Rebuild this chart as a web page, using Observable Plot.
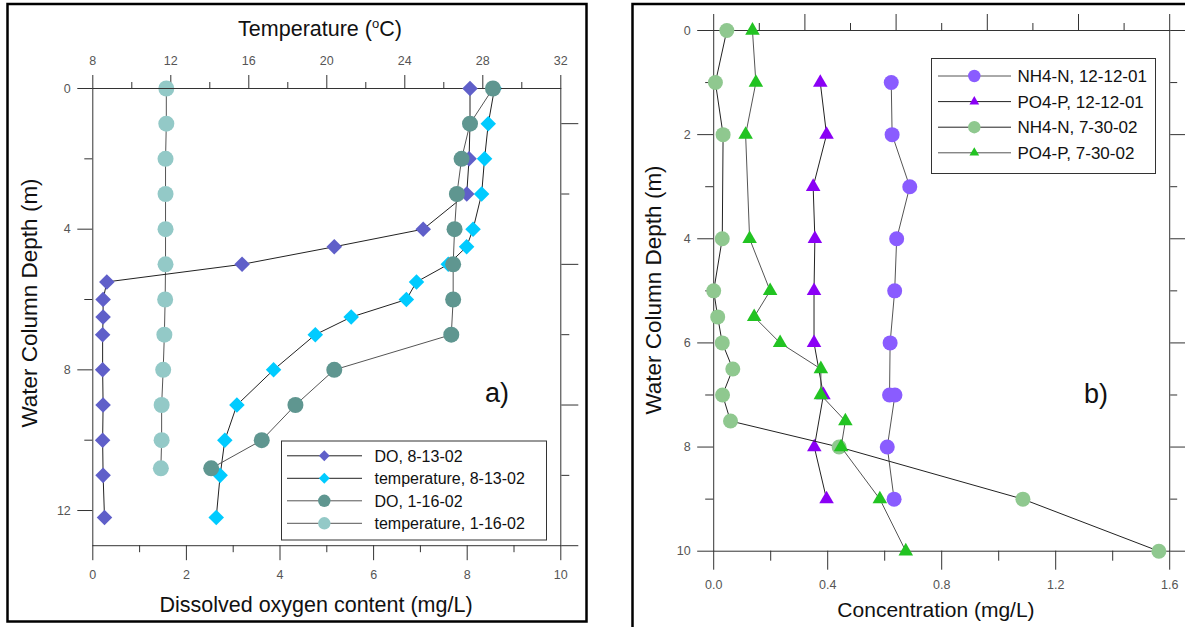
<!DOCTYPE html>
<html><head><meta charset="utf-8">
<script src="https://cdn.jsdelivr.net/npm/d3@7"></script>
<script src="https://cdn.jsdelivr.net/npm/@observablehq/plot@0.6"></script>
<style>
body{margin:0;background:#fff;}
#page{position:relative;width:1185px;height:627px;overflow:hidden;background:#fff;font-family:"Liberation Sans",Arial,sans-serif;}
#page > svg{position:absolute;left:0;top:0;}
[aria-label="x-axis tick label"],[aria-label="y-axis tick label"]{fill:#555;}
</style></head>
<body><div id="page"></div>
<script>
// ---------- Panel a) data ----------
const depths0813 = [0, 1, 2, 3, 4, 4.5, 5, 5.5, 6, 6.5, 7, 8, 9, 10, 11, 12.2];
const do0813     = [8.06, 8.06, 8.04, 7.99, 7.06, 5.16, 3.19, 0.30, 0.22, 0.22, 0.21, 0.21, 0.22, 0.21, 0.22, 0.25];
const temp0813   = [28.6, 28.28, 28.09, 27.94, 27.5, 27.17, 26.23, 24.6, 24.08, 21.25, 19.41, 17.27, 15.39, 14.77, 14.53, 14.33];
const depths0116 = [0, 1, 2, 3, 4, 5, 6, 7, 8, 9, 10, 10.8];
const do0116     = [8.55, 8.06, 7.88, 7.78, 7.73, 7.70, 7.70, 7.66, 5.16, 4.33, 3.61, 2.53];
const temp0116   = [11.77, 11.77, 11.73, 11.73, 11.73, 11.73, 11.71, 11.67, 11.61, 11.53, 11.53, 11.49];
const seriesA = ["DO, 8-13-02", "temperature, 8-13-02", "DO, 1-16-02", "temperature, 1-16-02"];

// ---------- Panel b) data ----------
const depthsNH4Dec = [1, 2, 3, 4, 5, 6, 7, 7, 8, 9];
const nh4Dec       = [0.623, 0.626, 0.688, 0.642, 0.635, 0.619, 0.617, 0.636, 0.609, 0.633];
const depthsPO4Dec = [1, 2, 3, 4, 5, 6, 7, 8, 9];
const po4Dec       = [0.374, 0.396, 0.349, 0.355, 0.352, 0.352, 0.385, 0.353, 0.396];
const depthsJul    = [0, 1, 2, 4, 5, 5.5, 6, 6.5, 7, 7.5, 8, 9, 10];
const nh4Jul       = [0.046, 0.006, 0.033, 0.030, 0.0, 0.014, 0.030, 0.067, 0.031, 0.059, 0.440, 1.085, 1.562];
const po4Jul       = [0.136, 0.148, 0.112, 0.126, 0.198, 0.142, 0.233, 0.376, 0.376, 0.462, 0.447, 0.583, 0.674];
const seriesB = ["NH4-N, 12-12-01", "PO4-P, 12-12-01", "NH4-N, 7-30-02", "PO4-P, 7-30-02"];

// ---------- Tick values ----------
const doMajor = [0, 2, 4, 6, 8, 10], doMinor = [1, 3, 5, 7, 9];
const tempMajor = [8, 12, 16, 20, 24, 28, 32], tempMinor = [10, 14, 18, 22, 26, 30];
const depthMajorA = [0, 4, 8, 12], depthMinorA = [2, 6, 10];
const rightLongA = [1, 5, 9, 13], rightShortA = [3, 7, 11];
const concMajor = [0, 0.4, 0.8, 1.2, 1.6], concMinor = [0.2, 0.6, 1.0, 1.4];
const concTopLong = [0, 0.32, 0.64, 0.96, 1.28, 1.6], concTopShort = [0.16, 0.48, 0.8, 1.12, 1.44];
const depthMajorB = [0, 2, 4, 6, 8, 10], depthMinorB = [1, 3, 5, 7, 9];

const rows = (depths, vals) => depths.map((d, i) => ({depth: d, value: vals[i]}));
const colorsA = ["#5f5fc9", "#00cbff", "#5f9690", "#93c9c7"];
const linesA  = ["#222", "#222", "#555", "#555"];
const colorsB = ["#8a5cff", "#8a00f5", "#8fc88f", "#22c322"];
const linesB  = ["#555", "#222", "#222", "#555"];

const font = '"Liberation Sans", Arial, sans-serif';
const page = document.getElementById("page");
const style = {background: "transparent", fontFamily: font, fontSize: "12.5px", color: "#333", overflow: "visible"};

// ----- Panel a: temperature layer (top axis) -----
const dimA = {width: 600, height: 627, marginLeft: 92.3, marginRight: 39.7, marginTop: 88, marginBottom: 81.8};
const t0813 = rows(depths0813, temp0813), t0116 = rows(depths0116, temp0116);
const d0813 = rows(depths0813, do0813), d0116 = rows(depths0116, do0116);

const plotT = Plot.plot({
  ...dimA, style,
  x: {domain: [8, 32]},
  y: {domain: [0, 13], reverse: true, axis: null},
  marks: [
    Plot.axisX({ticks: tempMajor, anchor: "top", tickSize: 14, tickPadding: 10, label: null}),
    Plot.axisX({ticks: tempMinor, anchor: "top", tickSize: 7, tickFormat: () => "", label: null}),
    Plot.line(t0813, {x: "value", y: "depth", stroke: linesA[1], strokeWidth: 1}),
    Plot.dot(t0813, {x: "value", y: "depth", symbol: "diamond2", r: 7, fill: colorsA[1]}),
    Plot.line(t0116, {x: "value", y: "depth", stroke: linesA[3], strokeWidth: 1}),
    Plot.dot(t0116, {x: "value", y: "depth", r: 8, fill: colorsA[3]})
  ]
});
page.appendChild(plotT);

// ----- Panel a: DO layer -----
const plotD = Plot.plot({
  ...dimA, style,
  x: {domain: [0, 10]},
  y: {domain: [0, 13], reverse: true},
  marks: [
    Plot.frame({stroke: "#333"}),
    Plot.axisX({ticks: doMajor, anchor: "bottom", tickSize: 15, tickPadding: 9, label: null}),
    Plot.axisX({ticks: doMinor, anchor: "bottom", tickSize: 7, tickFormat: () => "", label: null}),
    Plot.axisY({ticks: depthMajorA, anchor: "left", tickSize: 15, tickPadding: 7, label: null}),
    Plot.axisY({ticks: depthMinorA, anchor: "left", tickSize: 8, tickFormat: () => "", label: null}),
    Plot.axisY({ticks: rightLongA, anchor: "right", tickSize: 17, tickFormat: () => "", label: null}),
    Plot.axisY({ticks: rightShortA, anchor: "right", tickSize: 8, tickFormat: () => "", label: null}),
    Plot.line(d0813, {x: "value", y: "depth", stroke: linesA[0], strokeWidth: 1}),
    Plot.dot(d0813, {x: "value", y: "depth", symbol: "diamond2", r: 7, fill: colorsA[0]}),
    Plot.line(d0116, {x: "value", y: "depth", stroke: linesA[2], strokeWidth: 1}),
    Plot.dot(d0116, {x: "value", y: "depth", r: 8, fill: colorsA[2]})
  ]
});
page.appendChild(plotD);

// ----- Panel b -----
const bNH4Dec = rows(depthsNH4Dec, nh4Dec), bPO4Dec = rows(depthsPO4Dec, po4Dec);
const bNH4Jul = rows(depthsJul, nh4Jul), bPO4Jul = rows(depthsJul, po4Jul);
const plotB = Plot.plot({
  width: 565, height: 627, marginLeft: 93.2, marginRight: 15.8, marginTop: 30, marginBottom: 76.3, style,
  x: {domain: [0, 1.6]},
  y: {domain: [0, 10], reverse: true},
  marks: [
    Plot.frame({stroke: "#333"}),
    Plot.axisX({ticks: concMajor, anchor: "bottom", tickSize: 19, tickPadding: 10, label: null}),
    Plot.axisX({ticks: concMinor, anchor: "bottom", tickSize: 10, tickFormat: () => "", label: null}),
    Plot.axisX({ticks: concTopLong, anchor: "top", tickSize: 17, tickFormat: () => "", label: null}),
    Plot.axisX({ticks: concTopShort, anchor: "top", tickSize: 8, tickFormat: () => "", label: null}),
    Plot.axisY({ticks: depthMajorB, anchor: "left", tickSize: 16, tickPadding: 7, label: null}),
    Plot.axisY({ticks: depthMinorB, anchor: "left", tickSize: 8, tickFormat: () => "", label: null}),
    Plot.axisY({ticks: depthMajorB, anchor: "right", tickSize: 16, tickFormat: () => "", label: null}),
    Plot.axisY({ticks: depthMinorB, anchor: "right", tickSize: 7, tickFormat: () => "", label: null}),
    Plot.line(bNH4Dec, {x: "value", y: "depth", stroke: linesB[0], strokeWidth: 1}),
    Plot.dot(bNH4Dec, {x: "value", y: "depth", r: 7.5, fill: colorsB[0]}),
    Plot.line(bPO4Dec, {x: "value", y: "depth", stroke: linesB[1], strokeWidth: 1}),
    Plot.dot(bPO4Dec, {x: "value", y: "depth", symbol: "triangle", r: 5.4, fill: colorsB[1]}),
    Plot.line(bNH4Jul, {x: "value", y: "depth", stroke: linesB[2], strokeWidth: 1}),
    Plot.dot(bNH4Jul, {x: "value", y: "depth", r: 7.5, fill: colorsB[2]}),
    Plot.line(bPO4Jul, {x: "value", y: "depth", stroke: linesB[3], strokeWidth: 1}),
    Plot.dot(bPO4Jul, {x: "value", y: "depth", symbol: "triangle", r: 5.4, fill: colorsB[3]})
  ]
});
plotB.style.left = "620px";
page.appendChild(plotB);

// ----- Overlay: borders, titles, legends -----
const ov = d3.select(page).append("svg").attr("width", 1185).attr("height", 627)
  .style("font-family", font).style("pointer-events", "none");
ov.append("rect").attr("x", 7.5).attr("y", 4).attr("width", 579).attr("height", 617.5)
  .attr("fill", "none").attr("stroke", "#000").attr("stroke-width", 2.5);
ov.append("path").attr("d", "M632.5,640V4H1200").attr("fill", "none").attr("stroke", "#000").attr("stroke-width", 2.5);

const tt = ov.append("text").attr("x", 320).attr("y", 36).attr("text-anchor", "middle").attr("font-size", 21.5).attr("fill", "#111");
tt.append("tspan").text("Temperature (");
tt.append("tspan").attr("font-size", 13).attr("dy", -8).text("o");
tt.append("tspan").attr("dy", 8).text("C)");
ov.append("text").attr("x", 316).attr("y", 612).attr("text-anchor", "middle").attr("font-size", 21.5).attr("fill", "#111").text("Dissolved oxygen content (mg/L)");
ov.append("text").attr("transform", "translate(37,303) rotate(-90)").attr("text-anchor", "middle").attr("font-size", 22.5).attr("fill", "#111").text("Water Column Depth (m)");
ov.append("text").attr("x", 936).attr("y", 617).attr("text-anchor", "middle").attr("font-size", 21).attr("fill", "#111").text("Concentration (mg/L)");
ov.append("text").attr("transform", "translate(661,290) rotate(-90)").attr("text-anchor", "middle").attr("font-size", 22.5).attr("fill", "#111").text("Water Column Depth (m)");
ov.append("text").attr("x", 485).attr("y", 402).attr("font-size", 27).attr("fill", "#111").text("a)");
ov.append("text").attr("x", 1084).attr("y", 403).attr("font-size", 27).attr("fill", "#111").text("b)");

function legend(box, rowY, gap, x0, x1, xm, xt, fs, names, colors, lines, symbols, sizes) {
  ov.append("rect").attr("x", box[0]).attr("y", box[1]).attr("width", box[2]).attr("height", box[3])
    .attr("fill", "#fff").attr("stroke", "#333").attr("stroke-width", 1);
  names.forEach((name, i) => {
    const y = rowY + i * gap;
    ov.append("line").attr("x1", x0).attr("x2", x1).attr("y1", y).attr("y2", y).attr("stroke", lines[i]).attr("stroke-width", 1);
    ov.append("path").attr("d", d3.symbol().type(symbols[i]).size(Math.PI * sizes[i] * sizes[i])())
      .attr("transform", `translate(${xm},${y})`).attr("fill", colors[i]);
    ov.append("text").attr("x", xt).attr("y", y + fs * 0.36).attr("font-size", fs).attr("fill", "#111").text(name);
  });
}
legend([281.5, 441, 265, 99], 455.8, 22.5, 287, 362, 324.3, 374.5, 16, seriesA, colorsA, linesA,
  [d3.symbolDiamond2, d3.symbolDiamond2, d3.symbolCircle, d3.symbolCircle], [4.9, 4.9, 6.2, 6.2]);
legend([931.5, 58.5, 224, 115], 76, 25.6, 938, 1011, 974.3, 1017.5, 17, seriesB, colorsB, linesB,
  [d3.symbolCircle, d3.symbolTriangle, d3.symbolCircle, d3.symbolTriangle], [6.2, 3.6, 6.2, 3.6]);
</script>
</body></html>
